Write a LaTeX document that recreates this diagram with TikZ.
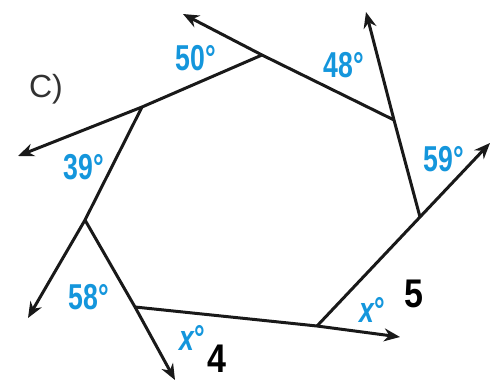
\documentclass[tikz,border=0pt]{standalone}
\usepackage{fontspec}
\setmainfont{Liberation Sans}
\usetikzlibrary{arrows.meta}
\definecolor{angblue}{RGB}{20,150,220}
\definecolor{labgray}{RGB}{50,50,50}
\tikzset{
  side/.style={line width=3pt, black!90, -{Stealth[length=16pt,width=13pt]}},
  ang/.style={text=angblue, font=\fontsize{36}{36}\selectfont\bfseries\addfontfeatures{FakeStretch=0.74}, inner sep=0pt},
  num/.style={text=black, font=\fontsize{40}{40}\selectfont\bfseries\addfontfeatures{FakeStretch=0.85}, inner sep=0pt},
}
\begin{document}
\begin{tikzpicture}[x=1pt,y=-1pt]
\useasboundingbox (0,0) rectangle (490,381);
% vertices
\coordinate (v1) at (262,55);
\coordinate (v2) at (394,120);
\coordinate (v3) at (420,217);
\coordinate (v4) at (317,326);
\coordinate (v5) at (135,307);
\coordinate (v6) at (85,220);
\coordinate (v7) at (142,107);
% arrow ends
\coordinate (e1) at (183,14);
\coordinate (e2) at (366,12);
\coordinate (e3) at (490,143);
\coordinate (e4) at (400,337);
\coordinate (e5) at (175,380);
\coordinate (e6) at (28,318);
\coordinate (e7) at (18,156);
% sides extended as rays
\draw[side] (v2) -- (v1) -- (e1);
\draw[side] (v3) -- (v2) -- (e2);
\draw[side] (v4) -- (v3) -- (e3);
\draw[side] (v5) -- (v4) -- (e4);
\draw[side] (v6) -- (v5) -- (e5);
\draw[side] (v7) -- (v6) -- (e6);
\draw[side] (v1) -- (v7) -- (e7);
% labels
\node[ang] (a50) at (196,58) {50°};
\node[ang] (a48) at (344,65) {48°};
\node[ang] (a59) at (444,159) {59°};
\node[ang] (a39) at (84,167) {39°};
\node[ang] (a58) at (89,297) {58°};
\node[ang] (x4) at (192,338) {\itshape x\upshape°};
\node[ang] (x5) at (372,310) {\itshape x\upshape°};
\node[num] (n4) at (217,359) {4};
\node[num] (n5) at (414,294) {5};
\node[text=labgray, font=\fontsize{32}{32}\selectfont, inner sep=0pt] (lc) at (46,89) {C)};
\end{tikzpicture}
\end{document}
